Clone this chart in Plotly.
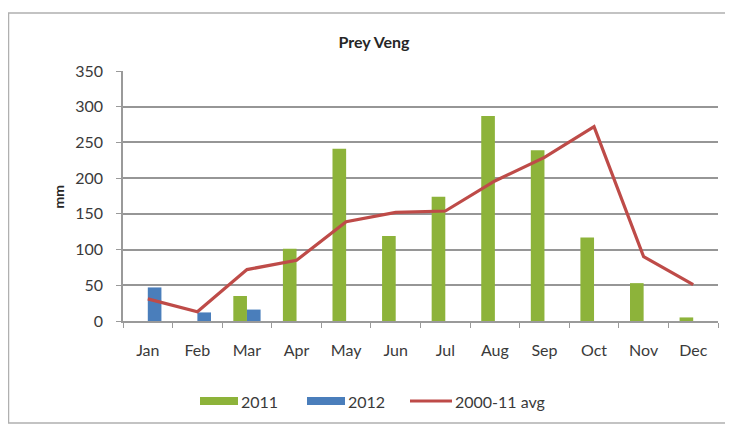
import plotly.graph_objects as go

months = ["Jan", "Feb", "Mar", "Apr", "May", "Jun", "Jul", "Aug", "Sep", "Oct", "Nov", "Dec"]
rain_2011 = [0, 0, 35, 101, 241, 119, 174, 287, 239, 117, 53, 5]
rain_2012 = [47, 12, 16, None, None, None, None, None, None, None, None, None]
avg_2000_11 = [31, 13, 72, 85, 139, 152, 154, 196, 229, 272, 90, 51]
y_ticks = [0, 50, 100, 150, 200, 250, 300, 350]
series_names = ["2011", "2012", "2000-11 avg"]
series_colors = ["#8db33a", "#4a7ebb", "#be4b48"]

FONT = "Lato, 'Open Sans', sans-serif"
OFF = 8  # browser body margin
W, H = 733 - OFF, 424 - OFF
# plot area in page pixels
PL, PR, PT, PB = 123, 718, 71, 321
L, R, T, B = PL - OFF, (W + OFF) - PR, PT - OFF, (H + OFF) - PB
pw, ph = PR - PL, PB - PT

def px_x(x):
    return (x - PL) / pw

def px_y(y):
    return (PB - y) / ph

fig = go.Figure()
fig.add_trace(go.Bar(name=series_names[0], x=months, y=rain_2011, marker_color=series_colors[0],
                     marker_line_width=0))
fig.add_trace(go.Bar(name=series_names[1], x=months, y=rain_2012, marker_color=series_colors[1],
                     marker_line_width=0))
fig.add_trace(go.Scatter(name=series_names[2], x=months, y=avg_2000_11, mode="lines",
                         line=dict(color=series_colors[2], width=3.2)))

fig.update_layout(
    width=W, height=H,
    margin=dict(l=L, r=R, t=T, b=B),
    paper_bgcolor="white", plot_bgcolor="white",
    barmode="group", bargap=0.45, bargroupgap=0.0,
    font=dict(family=FONT, size=16, color="#3a3a3a"),
    title=dict(text="<b>Prey Veng</b>", x=px_x(374), xref="paper", xanchor="center",
               y=1 - (42 - OFF) / H, yref="container", yanchor="middle",
               font=dict(family=FONT, size=16, color="#262626")),
    showlegend=False,
)
fig.update_xaxes(showgrid=False, showline=True, linecolor="#9a9a9a", linewidth=1.5,
                 ticks="outside", tickson="boundaries", ticklen=5, tickcolor="#9a9a9a",
                 ticklabelstandoff=14,
                 tickfont=dict(family=FONT, size=16, color="#3a3a3a"), fixedrange=True)
fig.update_yaxes(range=[0, 350], tickvals=y_ticks, showgrid=True, gridcolor="#969696",
                 gridwidth=2, showline=True, linecolor="#9a9a9a", linewidth=1.5,
                 ticks="outside", ticklen=5, tickcolor="#9a9a9a", zeroline=False,
                 ticklabelstandoff=10,
                 tickfont=dict(family=FONT, size=16, color="#3a3a3a"), fixedrange=True)

fig.add_annotation(text="<b>mm</b>", xref="paper", yref="paper", x=px_x(47), y=px_y(197),
                   textangle=-90, showarrow=False, font=dict(family=FONT, size=14, color="#262626"))

# frame
fig.add_shape(type="rect", xref="paper", yref="paper",
              x0=px_x(8.5), x1=px_x(732), y0=px_y(423), y1=px_y(13),
              line=dict(color="#b0b0b0", width=1.5), fillcolor="rgba(0,0,0,0)", layer="below")

# custom legend (wide swatches like the original)
leg_y = 401
swatches = [(200, 238), (307, 345), (410, 452)]
for i, (x0, x1) in enumerate(swatches):
    if i < 2:
        fig.add_shape(type="rect", xref="paper", yref="paper",
                      x0=px_x(x0), x1=px_x(x1), y0=px_y(leg_y + 4), y1=px_y(leg_y - 4),
                      line_width=0, fillcolor=series_colors[i])
    else:
        fig.add_shape(type="line", xref="paper", yref="paper",
                      x0=px_x(x0), x1=px_x(x1), y0=px_y(leg_y), y1=px_y(leg_y),
                      line=dict(color=series_colors[i], width=3))
    fig.add_annotation(text=series_names[i], xref="paper", yref="paper",
                       x=px_x(x1 + 1), y=px_y(leg_y), xanchor="left", yanchor="middle",
                       showarrow=False, font=dict(family=FONT, size=16, color="#3a3a3a"))

fig.write_html("out.html")
